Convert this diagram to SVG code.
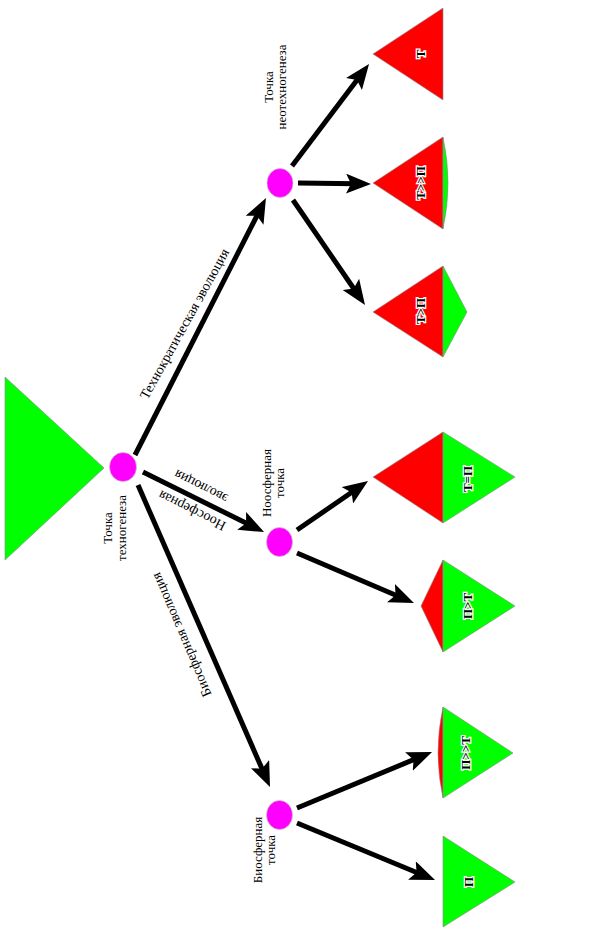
<svg xmlns="http://www.w3.org/2000/svg" width="595" height="928" viewBox="0 0 595 928">
<style>
.red{fill:#ff0000;stroke:#8a8a8a;stroke-width:0.6}
.green{fill:#00ff00;stroke:#8a8a8a;stroke-width:0.6}
.pt{fill:#ff00ff;stroke:#c8c8c8;stroke-width:0.6}
.lbl{font-family:"Liberation Serif",serif;font-size:14px;fill:#000}
.tri{font-family:"Liberation Serif",serif;font-size:13px;font-weight:bold;fill:#000;stroke:#fff;stroke-width:2.5;paint-order:stroke;text-anchor:middle}
.nd{font-family:"Liberation Serif",serif;font-size:13px;fill:#000;text-anchor:middle}
.ar{stroke:#000;stroke-width:5;fill:none;marker-end:url(#ah)}
</style>
<defs>
<marker id="ah" markerUnits="userSpaceOnUse" markerWidth="25" markerHeight="20" refX="11" refY="10" orient="auto">
<path d="M0,0 L25,10 L0,20 L5,10 Z" fill="#000"/>
</marker>
</defs>
<rect width="595" height="928" fill="#fff"/>

<g id="connectors">
<line class="ar" x1="135" y1="455" x2="259.6" y2="210.5"/>
<line class="ar" x1="143" y1="472" x2="251.5" y2="525.8"/>
<line class="ar" x1="138" y1="485" x2="264.4" y2="774.2"/>
<line class="ar" x1="292" y1="166" x2="360.6" y2="75.2"/>
<line class="ar" x1="298" y1="183" x2="357" y2="183.8"/>
<line class="ar" x1="293" y1="200" x2="357.1" y2="293.5"/>
<line class="ar" x1="297" y1="530" x2="356.5" y2="489"/>
<line class="ar" x1="297" y1="553" x2="401.1" y2="597.5"/>
<line class="ar" x1="297" y1="808" x2="419.1" y2="757.4"/>
<line class="ar" x1="297" y1="823" x2="422.1" y2="874.7"/>
<text class="lbl" text-anchor="middle" transform="translate(188.5,326) rotate(-61)">Технократическая эволюция</text>
<text class="lbl" text-anchor="middle" transform="translate(194,506.5) rotate(206.6)">Ноосферная</text>
<text class="lbl" text-anchor="middle" transform="translate(203,482.5) rotate(206.6)">эволюция</text>
<text class="lbl" text-anchor="middle" transform="translate(185.6,633) rotate(247)">Биосферная эволюция</text>
</g>

<g id="root">
<polygon class="green" points="5,377 104,468 5,560"/>
</g>
<g id="p-technogenesis">
<ellipse class="pt" cx="123" cy="467" rx="13.5" ry="14.5"/>
<text class="nd" transform="translate(111.5,528) rotate(-90)">Точка</text>
<text class="nd" transform="translate(125.5,528) rotate(-90)">техногенеза</text>
</g>
<g id="p-neotechnogenesis">
<ellipse class="pt" cx="280" cy="183" rx="13" ry="14.5"/>
<text class="nd" transform="translate(272.5,87) rotate(-90)">Точка</text>
<text class="nd" transform="translate(285.5,87) rotate(-90)">неотехногенеза</text>
</g>
<g id="p-noosphere">
<ellipse class="pt" cx="279.5" cy="542" rx="13" ry="14.5"/>
<text class="nd" transform="translate(271,483) rotate(-90)">Ноосферная</text>
<text class="nd" transform="translate(284,483) rotate(-90)">точка</text>
</g>
<g id="p-biosphere">
<ellipse class="pt" cx="279.5" cy="815" rx="13" ry="14.5"/>
<text class="nd" transform="translate(261.5,850) rotate(-90)">Биосферная</text>
<text class="nd" transform="translate(274.5,850) rotate(-90)">точка</text>
</g>

<g id="t1">
<polygon class="red" points="373,54 443,8 443,100"/>
<text class="tri" transform="translate(424.5,54) rotate(-90)">Т</text>
</g>
<g id="t2">
<polygon class="red" points="373,183 443,137 443,229"/>
<path class="green" d="M443,137 Q453,183 443,229 Z"/>
<text class="tri" transform="translate(424.5,183) rotate(-90)">Т&gt;&gt;П</text>
</g>
<g id="t3">
<polygon class="red" points="373,312 443,266 443,357"/>
<polygon class="green" points="443,266 467,312 443,357"/>
<text class="tri" transform="translate(424.5,311) rotate(-90)">Т&gt;П</text>
</g>
<g id="n1">
<polygon class="red" points="373,477 443,432 443,523"/>
<polygon class="green" points="443,432 515,477 443,523"/>
<text class="tri" transform="translate(471.5,479) rotate(-90)">Т=П</text>
</g>
<g id="n2">
<polygon class="red" points="421,606 443,560 443,652"/>
<polygon class="green" points="443,560 515,606 443,652"/>
<text class="tri" transform="translate(471.5,606) rotate(-90)">П&gt;Т</text>
</g>
<g id="b1">
<path class="red" d="M443,707 Q433,753 443,798 Z"/>
<polygon class="green" points="443,707 513,753 443,798"/>
<text class="tri" transform="translate(469.5,753) rotate(-90)">П&gt;&gt;Т</text>
</g>
<g id="b2">
<polygon class="green" points="443,836 515,882 443,927"/>
<text class="tri" transform="translate(472.5,882) rotate(-90)">П</text>
</g>
</svg>
